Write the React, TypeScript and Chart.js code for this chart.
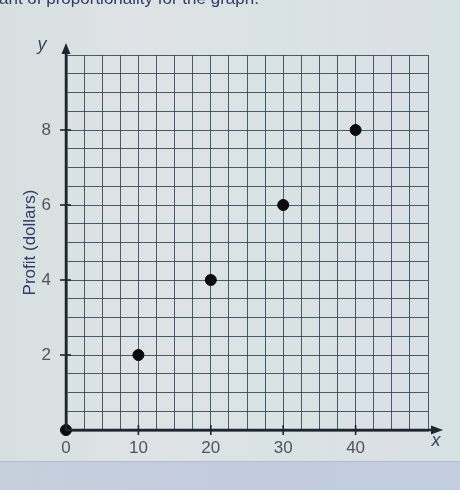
import React, { useEffect, useRef } from "react";
import { Chart, registerables } from "chart.js";

Chart.register(...registerables);

const xValues = [0, 10, 20, 30, 40];
const profitValues = [0, 2, 4, 6, 8];
const xTickLabels = [0, 10, 20, 30, 40];
const yTickLabels = [2, 4, 6, 8];
const yAxisTitle = "Profit (dollars)";
const headerText = "ant of proportionality for the graph.";

const AXIS = "#1c2530";
const GRID = "rgba(48,72,88,0.88)";
const TICK_TEXT = "#4f5560";
const NAVY = "#2f3d68";
const FONT = "'Liberation Sans', Arial, sans-serif";

const decorPlugin = {
  id: "decor",
  beforeDraw(chart: any) {
    const { ctx, width, height } = chart;
    ctx.save();
    const g = ctx.createLinearGradient(0, 0, width, 0);
    g.addColorStop(0, "#d6e0df");
    g.addColorStop(0.3, "#dfe2e6");
    g.addColorStop(0.6, "#d9e3e3");
    g.addColorStop(0.85, "#dce0e6");
    g.addColorStop(1, "#d4e2e2");
    ctx.fillStyle = g;
    ctx.fillRect(0, 0, width, 462);
    const b = ctx.createLinearGradient(0, 462, width, 490);
    b.addColorStop(0, "#c6d0dc");
    b.addColorStop(0.5, "#c3cbdf");
    b.addColorStop(1, "#c2cedf");
    ctx.fillStyle = b;
    ctx.fillRect(0, 462, width, height - 462);
    ctx.strokeStyle = "#b4bcc8";
    ctx.lineWidth = 1;
    ctx.beginPath();
    ctx.moveTo(0, 461.5);
    ctx.lineTo(width, 461.5);
    ctx.stroke();
    ctx.fillStyle = NAVY;
    ctx.font = `17px ${FONT}`;
    ctx.textBaseline = "alphabetic";
    ctx.textAlign = "left";
    ctx.fillText(headerText, -1, 4);
    ctx.restore();
  },
  afterDatasetsDraw(chart: any) {
    const { ctx, chartArea } = chart;
    const xs = chart.scales.x;
    const ys = chart.scales.y;
    const { left, right, top, bottom } = chartArea;
    ctx.save();
    ctx.strokeStyle = AXIS;
    ctx.fillStyle = AXIS;
    ctx.lineWidth = 2.5;
    ctx.beginPath();
    ctx.moveTo(left, bottom);
    ctx.lineTo(left, top - 6);
    ctx.stroke();
    ctx.beginPath();
    ctx.moveTo(left, top - 12);
    ctx.lineTo(left - 4.5, top - 1);
    ctx.lineTo(left + 4.5, top - 1);
    ctx.closePath();
    ctx.fill();
    ctx.beginPath();
    ctx.moveTo(left, bottom);
    ctx.lineTo(right + 8, bottom);
    ctx.stroke();
    ctx.beginPath();
    ctx.moveTo(right + 15, bottom);
    ctx.lineTo(right + 3, bottom - 4.5);
    ctx.lineTo(right + 3, bottom + 4.5);
    ctx.closePath();
    ctx.fill();
    ctx.lineWidth = 1.6;
    xTickLabels.forEach((v) => {
      if (v === 0) return;
      const px = xs.getPixelForValue(v);
      ctx.beginPath();
      ctx.moveTo(px, bottom - 5);
      ctx.lineTo(px, bottom + 5);
      ctx.stroke();
    });
    yTickLabels.forEach((v) => {
      const py = ys.getPixelForValue(v);
      ctx.beginPath();
      ctx.moveTo(left - 6, py);
      ctx.lineTo(left + 5, py);
      ctx.stroke();
    });
    ctx.fillStyle = "#3a4660";
    ctx.font = `italic 18px ${FONT}`;
    ctx.textAlign = "center";
    ctx.textBaseline = "middle";
    ctx.fillText("y", left - 24, top - 10);
    ctx.fillText("x", right + 8, bottom + 11);
    ctx.restore();
  },
};

export default function App() {
  const ref = useRef<HTMLCanvasElement | null>(null);
  useEffect(() => {
    if (!ref.current) return;
    const chart = new Chart(ref.current, {
      type: "scatter",
      data: {
        datasets: [
          {
            data: xValues.map((x, i) => ({ x, y: profitValues[i] })),
            backgroundColor: "#0b0b0d",
            borderColor: "#0b0b0d",
            pointRadius: 5.5,
            pointHoverRadius: 5.5,
            clip: false as any,
          },
        ],
      },
      options: {
        responsive: false,
        animation: false,
        layout: { padding: { top: 55, right: 32, left: 0, bottom: 0 } },
        plugins: {
          legend: { display: false },
          tooltip: { enabled: false },
        },
        scales: {
          x: {
            type: "linear",
            min: 0,
            max: 50,
            ticks: {
              stepSize: 2.5,
              autoSkip: false,
              maxRotation: 0,
              padding: 8,
              color: TICK_TEXT,
              font: { size: 17, family: FONT },
              callback: (v: any) =>
                xTickLabels.includes(Number(v)) ? String(v) : "",
            },
            grid: { color: GRID, lineWidth: 1, drawTicks: false },
            border: { display: true, color: AXIS, width: 2.5 },
            afterFit: (s: any) => {
              s.height = 60;
            },
          },
          y: {
            type: "linear",
            min: 0,
            max: 10,
            ticks: {
              stepSize: 0.5,
              autoSkip: false,
              padding: 15,
              color: TICK_TEXT,
              font: { size: 17, family: FONT },
              callback: (v: any) =>
                yTickLabels.includes(Number(v)) ? String(v) : "",
            },
            grid: { color: GRID, lineWidth: 1, drawTicks: false },
            border: { display: true, color: AXIS, width: 2.5 },
            title: {
              display: true,
              text: yAxisTitle,
              color: NAVY,
              font: { size: 17, family: FONT },
              padding: { top: 20, bottom: 0 },
            },
            afterFit: (s: any) => {
              s.width = 66;
            },
          },
        },
      },
      plugins: [decorPlugin],
    });
    return () => chart.destroy();
  }, []);
  return (
    <div style={{ position: "fixed", left: 0, top: 0, width: 460, height: 490 }}>
      <canvas ref={ref} width={460} height={490} style={{ display: "block" }} />
    </div>
  );
}
